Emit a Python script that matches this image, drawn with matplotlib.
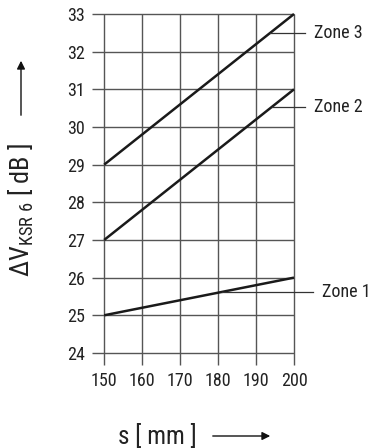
import matplotlib.pyplot as plt

plt.rcParams['font.family'] = ['Roboto Condensed', 'DejaVu Sans']
plt.rcParams['mathtext.fontset'] = 'custom'
plt.rcParams['mathtext.rm'] = 'Roboto Condensed'
plt.rcParams['mathtext.it'] = 'Roboto Condensed'

# data
s_mm = [150, 200]
zone1 = [25, 26]
zone2 = [27, 31]
zone3 = [29, 33]
zone_labels = ['Zone 1', 'Zone 2', 'Zone 3']
x_ticks = [150, 160, 170, 180, 190, 200]
y_ticks = [24, 25, 26, 27, 28, 29, 30, 31, 32, 33]

W, H = 376, 448
fig = plt.figure(figsize=(W / 100, H / 100), dpi=100)
ax = fig.add_axes([92 / W, 83 / H, 202 / W, 351 / H])

x_min, y_min = 146.8, 23.68
ax.set_xlim(x_min, 200)
ax.set_ylim(y_min, 33)
for sp in ax.spines.values():
    sp.set_visible(False)

grid_col = '#555555'
ax.hlines(y_ticks, x_min, 200, color=grid_col, lw=1.0, clip_on=False)
ax.vlines(x_ticks, y_min, 33, color=grid_col, lw=1.0, clip_on=False)

ax.set_xticks(x_ticks)
ax.set_yticks(y_ticks)
ax.tick_params(length=0, labelsize=13, colors='#222222')
ax.tick_params(axis='y', pad=5)
ax.tick_params(axis='x', pad=5)

for ys in (zone1, zone2, zone3):
    ax.plot(s_mm, ys, color='#1a1a1a', lw=1.8, clip_on=False, solid_capstyle='butt')

# leaders + zone labels
leaders = [(181, 25.62, 205.0), (194.1, 30.53, 202.9), (193.75, 32.5, 202.9)]
for (x0, y0, x1), lab in zip(leaders, zone_labels):
    ax.plot([x0, x1], [y0, y0], color='#333333', lw=0.9, clip_on=False)
    ax.text(x1 + 2.4, y0, lab, fontsize=13, va='center', ha='left', color='#222222')

# axis titles with arrows
fig.text(21 / W, 1 - 210 / H, r'$\Delta\mathrm{V}_{\mathrm{KSR\ 6}}$ [ dB ]', rotation=90,
         ha='center', va='center', fontsize=19, color='#222222')
fig.text(157 / W, 1 - 436 / H, 's [ mm ]', ha='center', va='center', fontsize=18, color='#222222')

ax.annotate('', xy=(21 / W, 1 - 58 / H), xytext=(21 / W, 1 - 118 / H),
            xycoords='figure fraction', textcoords='figure fraction',
            arrowprops=dict(arrowstyle='-|>', color='#111111', lw=1.0,
                            mutation_scale=12))
ax.annotate('', xy=(273 / W, 1 - 436 / H), xytext=(210 / W, 1 - 436 / H),
            xycoords='figure fraction', textcoords='figure fraction',
            arrowprops=dict(arrowstyle='-|>', color='#111111', lw=1.0,
                            mutation_scale=12))

fig.savefig('out.png', dpi=100)
